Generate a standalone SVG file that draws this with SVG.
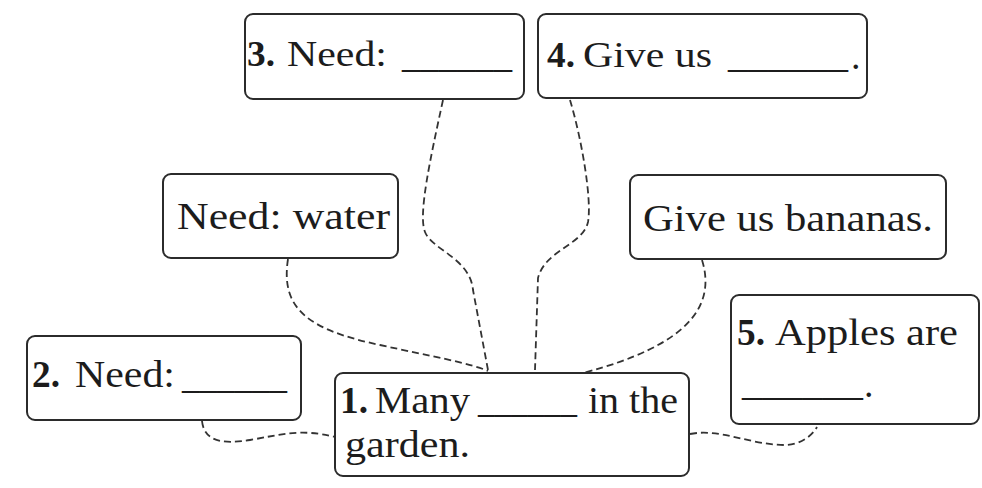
<svg xmlns="http://www.w3.org/2000/svg" width="982" height="488" viewBox="0 0 982 488">
<style>
.box{fill:#fff;stroke:#2b2b2b;stroke-width:2}
.t{font-family:"Liberation Serif","Times New Roman",serif;font-size:38px;fill:#1c1c1c}
.s{font-size:36px}
.b{font-weight:bold}
.c{fill:none;stroke:#333;stroke-width:1.8;stroke-dasharray:7 4}
</style>
<rect width="982" height="488" fill="#fff"/>
<g id="connectors">
<path class="c" d="M443,100 C 430,160 418,215 425,232 C 432,250 470,258 473,290 L 488,370"/>
<path class="c" d="M288,259 C 280,310 310,330 380,345 C 430,356 470,363 488,371"/>
<path class="c" d="M570,100 C 582,140 592,200 588,222 C 583,245 545,250 538,278 L 535,370"/>
<path class="c" d="M702,260 C 716,305 690,345 583,373"/>
<path class="c" d="M202,421 C 204,440 220,445 250,440 C 280,435 300,428 335,437"/>
<path class="c" d="M690,434 C 720,428 750,445 785,445 C 800,445 812,436 817,427"/>
</g>
<g id="box3">
<rect class="box" x="245" y="14" width="279" height="85" rx="8"/>
<text class="t s b" x="247" y="66" textLength="28" lengthAdjust="spacingAndGlyphs">3.</text>
<text class="t s" x="287" y="66" textLength="100" lengthAdjust="spacingAndGlyphs">Need:</text>
<text class="t" x="402" y="67" textLength="110" lengthAdjust="spacingAndGlyphs">______</text>
</g>
<g id="box4">
<rect class="box" x="538" y="14" width="329" height="84" rx="8"/>
<text class="t s b" x="547" y="67" textLength="28" lengthAdjust="spacingAndGlyphs">4.</text>
<text class="t s" x="583" y="67" textLength="129" lengthAdjust="spacingAndGlyphs">Give us</text>
<text class="t" x="728" y="67" textLength="120" lengthAdjust="spacingAndGlyphs">______</text>
<text class="t" x="851" y="69">.</text>
</g>
<g id="need-water">
<rect class="box" x="163" y="174" width="235" height="84" rx="8"/>
<text class="t" x="177" y="229" textLength="213" lengthAdjust="spacingAndGlyphs">Need: water</text>
</g>
<g id="give-bananas">
<rect class="box" x="630" y="175" width="316" height="84" rx="8"/>
<text class="t" x="643" y="231" textLength="290" lengthAdjust="spacingAndGlyphs">Give us bananas.</text>
</g>
<g id="box2">
<rect class="box" x="27" y="336" width="274" height="84" rx="8"/>
<text class="t b" x="32" y="387" textLength="28" lengthAdjust="spacingAndGlyphs">2.</text>
<text class="t" x="75" y="387" textLength="100" lengthAdjust="spacingAndGlyphs">Need:</text>
<text class="t" x="182" y="388" textLength="105" lengthAdjust="spacingAndGlyphs">______</text>
</g>
<g id="box1">
<rect class="box" x="335" y="373" width="354" height="103" rx="8"/>
<text class="t b" x="340" y="413" textLength="28" lengthAdjust="spacingAndGlyphs">1.</text>
<text class="t" x="375" y="413" textLength="95" lengthAdjust="spacingAndGlyphs">Many</text>
<text class="t" x="478" y="412" textLength="99" lengthAdjust="spacingAndGlyphs">______</text>
<text class="t" x="588" y="413" textLength="90" lengthAdjust="spacingAndGlyphs">in the</text>
<text class="t" x="345" y="457" textLength="125" lengthAdjust="spacingAndGlyphs">garden.</text>
</g>
<g id="box5">
<rect class="box" x="731" y="295" width="248" height="129" rx="8"/>
<text class="t b" x="737" y="345" textLength="28" lengthAdjust="spacingAndGlyphs">5.</text>
<text class="t" x="775" y="345" textLength="183" lengthAdjust="spacingAndGlyphs">Apples are</text>
<text class="t" x="742" y="395" textLength="121" lengthAdjust="spacingAndGlyphs">______</text>
<text class="t" x="864" y="397">.</text>
</g>
</svg>
